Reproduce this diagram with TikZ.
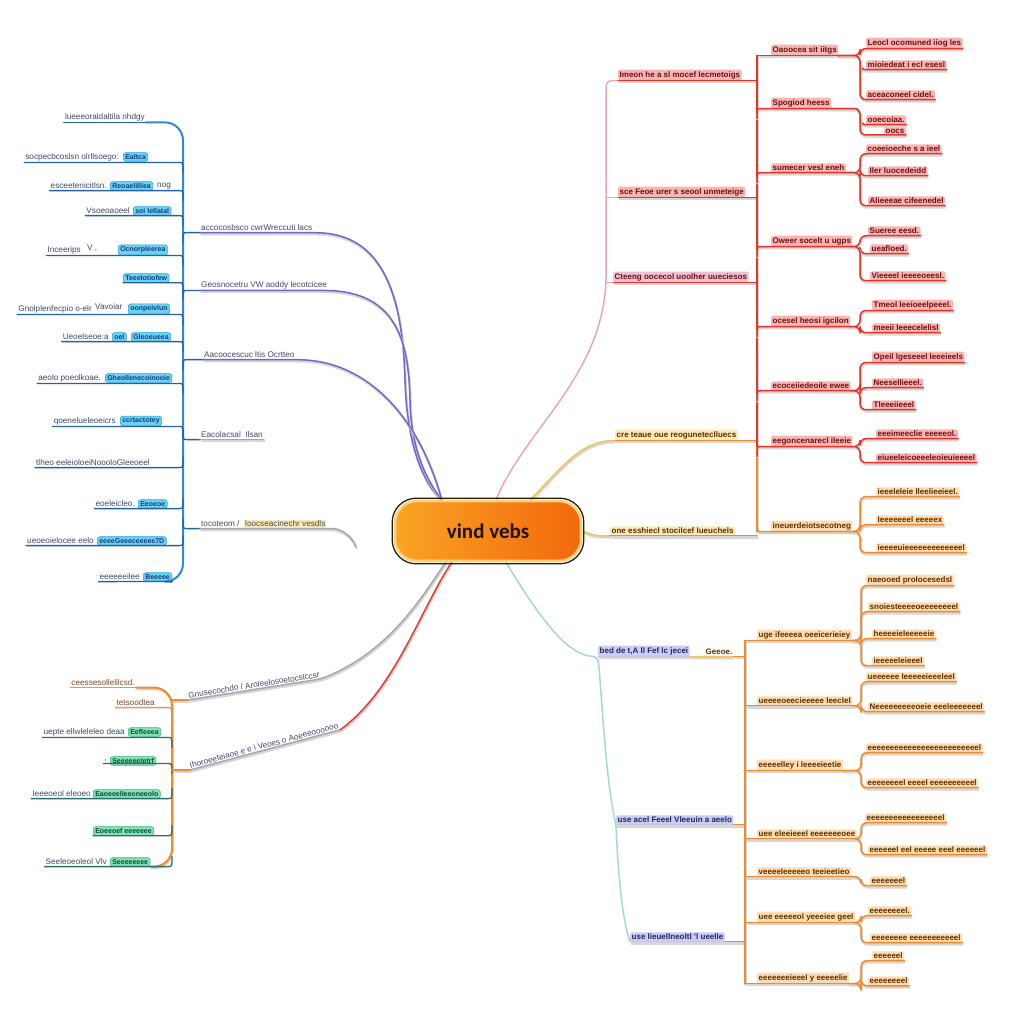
\documentclass[tikz,border=0pt]{standalone}
\usepackage{fontspec}
\setmainfont{Liberation Sans}
\newfontfamily\cfont{Carlito}
\usetikzlibrary{calc,backgrounds}
\pgfdeclarelayer{fg}
\pgfsetlayers{background,main,fg}
\definecolor{redline}{HTML}{E5352B}
\definecolor{redfill}{HTML}{F7B6B4}
\definecolor{redtext}{HTML}{6E0E0E}
\definecolor{orgline}{HTML}{F08A2A}
\definecolor{orgfill}{HTML}{FCDCB0}
\definecolor{orgtext}{HTML}{5E2E00}
\definecolor{yelfill}{HTML}{FBEAB8}
\definecolor{yelline}{HTML}{F2C450}
\definecolor{pinkline}{HTML}{E8A6B6}
\definecolor{pinklav}{HTML}{EEC0D4}
\definecolor{tealline}{HTML}{A6D8CC}
\definecolor{lavfill}{HTML}{CACCF2}
\definecolor{lavtext}{HTML}{1E2866}
\definecolor{blueline}{HTML}{2F88DA}
\definecolor{bluedark}{HTML}{2562A2}
\definecolor{cyanfill}{HTML}{6AD3F4}
\definecolor{cyandraw}{HTML}{2AA2E2}
\definecolor{bluetext}{HTML}{3E4A64}
\definecolor{navytext}{HTML}{163A78}
\definecolor{purpline}{HTML}{7664C8}
\definecolor{grayline}{HTML}{A6A6AE}
\definecolor{greenfill}{HTML}{80E2B6}
\definecolor{greendraw}{HTML}{3CB884}
\definecolor{greentext}{HTML}{0F4A34}
\definecolor{tealdark}{HTML}{2C6E6A}
\definecolor{brownline}{HTML}{D49A6A}
\definecolor{browntext}{HTML}{7A4A2A}
\definecolor{cenL}{HTML}{FAA424}
\definecolor{cenR}{HTML}{F2680C}
\definecolor{ringcol}{HTML}{F8D27A}
\definecolor{cenedge}{HTML}{2A1C10}
\definecolor{centext}{HTML}{221208}
\definecolor{redsoft}{HTML}{D84030}
\tikzset{
 lb/.style={font=\fontsize{8}{9}\selectfont\bfseries, inner xsep=1.5pt, inner ysep=1.6pt, rounded corners=1.5pt, anchor=west},
 rl/.style={lb, fill=redfill, text=redtext},
 ol/.style={lb, fill=orgfill, text=orgtext},
 yl/.style={lb, fill=yelfill, text=orgtext},
 vl/.style={lb, fill=lavfill, text=lavtext},
 lt/.style={font=\fontsize{8.2}{9}\selectfont, inner xsep=1pt, inner ysep=1.4pt, text=bluetext},
 ltw/.style={lt, anchor=west},
 lte/.style={lt, anchor=east},
 cb/.style={font=\fontsize{7}{8}\selectfont\bfseries, inner xsep=2pt, inner ysep=1.8pt, rounded corners=2.5pt, fill=cyanfill, draw=cyandraw, line width=0.6pt, text=navytext, anchor=west},
 gb/.style={cb, fill=greenfill, draw=greendraw, text=greentext},
 sh/.style={preaction={draw=black!16, line width=2.4pt, transform canvas={shift={(0.6pt,-1.6pt)}}}},
 ln/.style={line width=1.5pt, line cap=round, line join=round, rounded corners=6pt},
 rln/.style={ln, sh, draw=redline},
 oln/.style={ln, sh, draw=orgline},
 yln/.style={ln, sh, draw=yelline},
 pkln/.style={ln, draw=pinkline},
 tln/.style={ln, draw=tealline},
 vln/.style={ln, sh, draw=lavfill!80!black!60},
 pln/.style={ln, sh, draw=purpline},
 gln/.style={ln, sh, draw=grayline},
 bln/.style={ln, line width=1.3pt, draw=bluedark},
 bsp/.style={ln, line width=2pt, draw=blueline, rounded corners=18pt},
 tdl/.style={ln, line width=1.3pt, draw=tealdark},
 brl/.style={ln, line width=1.3pt, draw=brownline},
}
\begin{document}
\begin{tikzpicture}[x=1pt,y=-1pt]
\useasboundingbox (0,0) rectangle (1024,1024);
\begin{pgfonlayer}{background}
\fill[white] (0,0) rectangle (1024,1024);
\end{pgfonlayer}

% ---------- centre ----------
\begin{pgfonlayer}{fg}
\node[draw=ringcol, line width=2.6pt, rounded corners=22pt, minimum width=186, minimum height=60,
 left color=cenL, right color=cenR, font=\cfont\bfseries\fontsize{21}{24}\selectfont, text=centext] (c) at (488,531) {vind vebs};
\draw[line width=1.3pt, draw=cenedge, rounded corners=24pt] ($(c.south west)+(-1.5,1.5)$) rectangle ($(c.north east)+(1.5,-1.5)$);
\end{pgfonlayer}
\coordinate (cN) at ($(c.north)+(8,0)$);
\coordinate (cNE) at ($(c.north east)+(-52,0)$);
\coordinate (cS) at ($(c.south)+(18,0)$);
\coordinate (cNW) at ($(c.north west)+(48,0)$);
\coordinate (cSW) at ($(c.south west)+(52,0)$);
\coordinate (cSW2) at ($(c.south west)+(58,0)$);

% ---------- right: red / orange ----------
\coordinate (ptr) at (606,0);
\coordinate (rsp) at (757,0);
\coordinate (rsub) at (860,0);
\node[rl] (R1) at (618,75) {Imeon he a sl mocef lecmetoigs};
\node[rl] (R2) at (618,192) {sce Feoe urer s seool unmeteige};
\node[rl, fill=pinklav] (R3) at (613,277) {Cteeng oocecol uoolher uueciesos};
\node[yl] (R4) at (615,435) {cre teaue oue reoguneteclluecs};
\node[yl] (R5) at (610,531) {one esshiecl stocilcef lueuchels};

\node[rl] (M1) at (771,50) {Oaoocea sit iitgs};
\node[rl] (M2) at (771,103) {Spogiod heess};
\node[rl] (M3) at (771,168) {sumecer vesl eneh};
\node[rl] (M4) at (771,241) {Oweer socelt u ugps};
\node[rl] (M5) at (771,321) {ocesel heosi igcilon};
\node[rl] (M6) at (771,386) {ecoceiiedeoile ewee};
\node[rl] (M7) at (771,441) {eegoncenarecl ileeie};
\node[ol] (M8) at (771,526) {ineuerdeiotsecotneg};

\node[rl] (a1) at (866,43) {Leocl ocomuned iiog les};
\node[rl] (a2) at (866,65) {mioiedeat i ecl esesl};
\node[rl] (a3) at (866,95) {aceaconeel cidel.};
\node[rl] (a4) at (866,120) {ooecoiaa.};
\node[rl] (a5) at (884,131) {oocs};
\node[rl] (b1) at (866,149) {coeeioeche s a ieel};
\node[rl] (b2) at (868,171) {Iler luocedeidd};
\node[rl] (b3) at (868,201) {Alieeeae cifeenedel};
\node[rl] (c1) at (868,231) {Sueree eesd.};
\node[rl] (c2) at (870,249) {ueafloed.};
\node[rl] (c3) at (870,276) {Vieeeel ieeeeoeesl.};
\node[rl] (d1) at (872,305) {Tmeol leeioeelpeeel.};
\node[rl] (d2) at (872,328) {meeii leeecelelisl};
\node[rl] (e1) at (872,357) {Opeil lgeseeel leeeieels};
\node[rl] (e2) at (872,383) {Neesellieeel.};
\node[rl] (e3) at (872,405) {Tleeeiieeel};
\node[rl] (f1) at (876,434) {eeeimeeclie eeeeeol.};
\node[rl] (f2) at (876,458) {eiueeleicoeeeleoieuieeeel};
\node[ol] (g1) at (876,492) {ieeeleleie lleelieeieel.};
\node[ol] (g2) at (876,520) {Ieeeeeeel eeeeex};
\node[ol] (g3) at (876,548) {ieeeeuieeeeeeeeeeeeel};

\draw[pkln] (cN) .. controls (525,430) and (598,380) .. (ptr |- R3.south west) -- (ptr |- R1.south west) -- (R1.south west);
\draw[pkln] (ptr |- R2.south west) -- (R2.south west);
\draw[pkln] (ptr |- R3.south west) -- (R3.south west);
\draw[yln] (cNE) .. controls (560,470) and (580,440) .. (R4.south west);
\draw[yln] (c.east) .. controls (595,536) .. (R5.south west);
\foreach \r in {R1,R2,R3} \draw[rln] (\r.south west) -- (rsp |- \r.south west);
\foreach \r in {R4,R5} \draw[oln] (\r.south west) -- (rsp |- \r.south west);
\draw[oln, line width=2pt] (rsp |- M7.south) -- (rsp |- M8.south);
\draw[rln, line width=2pt] (rsp |- M1.south) -- (rsp |- M7.south);
\draw[rln] (rsp |- M1.south) -- (M1.south east);
\foreach \m in {M2,M3,M4,M5,M6,M7}
  \draw[rln] ($(rsp |- \m.south)+(0,10)$) .. controls (rsp |- \m.south) .. ($(rsp |- \m.south)+(10,0)$) -- (\m.south east);
\draw[oln] ($(rsp |- M8.south)+(0,-10)$) .. controls (rsp |- M8.south) .. ($(rsp |- M8.south)+(10,0)$) -- (M8.south east);
\foreach \m/\l in {M1/a1,M1/a2,M1/a3,M2/a4,M2/a5,M3/b1,M3/b2,M3/b3,M4/c1,M4/c2,M4/c3,M5/d1,M5/d2,M6/e1,M6/e2,M6/e3,M7/f1,M7/f2}
  \draw[rln] (\m.south east) -- (rsub |- \m.south east) -- (rsub |- \l.south west) -- (\l.south east);
\foreach \l in {g1,g2,g3}
  \draw[oln] (M8.south east) -- (rsub |- M8.south east) -- (rsub |- \l.south west) -- (\l.south east);

% ---------- right: lower orange ----------
\coordinate (osp) at (745,0);
\coordinate (osub) at (861,0);
\node[vl] (B1) at (598,651) {bed de t,A ll Fef lc jecei};
\node[lb, text=orgtext] (B1b) at (704,652) {Geeoe.};
\node[vl] (B2) at (616,820) {use acel Feeel Vleeuin a aeelo};
\node[vl] (B3) at (630,937) {use  lieuellneoltl 'l ueelle};

\node[ol] (N1) at (757,635) {uge ifeeeea oeeicerieiey};
\node[ol] (N2) at (757,701) {ueeeeoeecieeeee leeclel};
\node[ol] (N3) at (757,765) {eeeeelley i leeeeieetie};
\node[ol] (N4) at (757,834) {uee eleeieeel eeeeeeeoee};
\node[ol] (N5) at (757,872) {veeeeleeeeeo teeieetieo};
\node[ol] (N6) at (757,917) {uee eeeeeol yeeeiee geel};
\node[ol] (N7) at (757,978) {eeeeeeeieeel y eeeeelie};

\node[ol] (n1) at (866,580) {naeooed prolocesedsl};
\node[ol] (n2) at (868,607) {snoiesteeeeoeeeeeeeel};
\node[ol] (n3) at (872,634) {heeeeieleeeeeie};
\node[ol] (n4) at (872,661) {ieeeeeleieeel};
\node[ol] (n5) at (866,677) {ueeeeee leeeeeieeeleel};
\node[ol] (n6) at (868,707) {Neeeeeeeeeoeie eeeleeeeeeel};
\node[ol] (n7) at (866,748) {eeeeeeeeeeeeeeeeeeeeeeeeel};
\node[ol] (n8) at (866,783) {eeeeeeeel eeeel eeeeeeeeeel};
\node[ol] (n9) at (865,818) {eeeeeeeeeeeeeeeeel};
\node[ol] (n10) at (868,850) {eeeeeel eel eeeee eeel eeeeeel};
\node[ol] (n11) at (870,881) {eeeeeeel};
\node[ol] (n12) at (868,911) {eeeeeeeel.};
\node[ol] (n13) at (870,938) {eeeeeeee eeeeeeeeeeel};
\node[ol] (n14) at (872,956) {eeeeeel};
\node[ol] (n15) at (868,981) {eeeeeeeel};

\draw[tln] (cS) .. controls (535,610) and (565,655) .. (B1.south west) .. controls (602,700) and (606,780) .. (B2.south west) .. controls (618,870) and (622,920) .. (B3.south west);
\foreach \b in {B1,B2,B3} \draw[vln] (\b.south west) -- (\b.south east);
\draw[yln] (B1.south east) -- (B1b.south east);
\draw[oln] (B1b.south east) -- (osp |- B1b.south east);
\foreach \b in {B2,B3} \draw[oln] (\b.south east) -- (osp |- \b.south east);
\draw[oln, line width=2pt] (osp |- N1.south) -- (osp |- N7.south);
\foreach \m in {N1,N2,N3,N4,N5,N6,N7} \draw[oln] (osp |- \m.south) -- (\m.south east);
\foreach \m/\l in {N1/n1,N1/n2,N1/n3,N1/n4,N2/n5,N2/n6,N3/n7,N3/n8,N4/n9,N4/n10,N5/n11,N6/n12,N6/n13,N7/n14,N7/n15}
  \draw[oln] (\m.south east) -- (osub |- \m.south east) -- (osub |- \l.south west) -- (\l.south east);

% ---------- left: blue ----------
\coordinate (lsp) at (183,0);
\node[lte] (L1t) at (146,117) {lueeeoraldaltila nhdgy};
\node[lte] (L2t) at (120,157) {socpecbcoslsn olrllsoego:};
\node[cb] (L2b) at (123,157) {Ealtca};
\node[lte] (L3t) at (108,186) {esceetenicitlsn.};
\node[cb] (L3b) at (110,186) {Reoaelilliea};
\node[ltw] (L3c) at (156,186) {nog};
\node[lte] (L4t) at (131,211) {Vsoeoaoeel};
\node[cb] (L4b) at (133,211) {soi lellatal};
\node[lte] (L5t) at (82,250) {Inceerips};
\node[ltw] (L5m) at (86,248) {V ,};
\node[cb] (L5b) at (118,250) {Ocnorpleerea};
\node[cb] (L6b) at (123,278) {Teeelotiofew};
\node[lte] (L7t) at (93,309) {Gnolplenfecpio o-elr};
\node[ltw] (L7u) at (94,307) {Vavoiar};
\node[cb] (L7b) at (128,309) {oonpeivlun};
\node[lte] (L8t) at (110,337) {Ueoelseoe:a};
\node[cb] (L8s) at (112,337) {oel};
\node[cb] (L8b) at (131,337) {Gleoeueea};
\node[lte] (L9t) at (102,378) {aeolo poeolkoae.};
\node[cb] (L9b) at (105,378) {Gheollenecoinooie};
\node[lte] (L10t) at (117,421) {qoenelueleoeicrs};
\node[cb] (L10b) at (120,421) {ccrtactotey};
\node[ltw] (L11t) at (35,463) {tlheo eeleioloeiNoooloGleeoeel};
\node[lte] (L12t) at (136,504) {eoeleicleo.};
\node[cb] (L12b) at (138,504) {Eeoeoe};
\node[lte] (L13t) at (95,541) {ueoeoielocee eelo};
\node[cb] (L13b) at (97,541) {eeeeGeeeceeeee7D};
\node[lte] (L14t) at (141,577) {eeeeeeilee};
\node[cb] (L14b) at (143,577) {Beeeee};

\node[ltw] (P1) at (200,228) {accocosbsco cwrWreccuti lacs};
\node[ltw] (P2) at (200,285) {Geosnocetru VW aoddy lecotcicee};
\node[ltw] (P3) at (203,355) {Aacoocescuc ltis Ocrtteo};
\node[ltw] (G1) at (200,435) {Eacolacsal \ Ilsan};
\node[ltw] (G2a) at (200,524) {tocoteom /};
\node[ltw, fill=yelfill] (G2b) at (244,524) {loocseacinechr vesdls};
\coordinate (g2end) at (356,547);

\draw[bsp] (L1t.south east) -- (lsp |- L1t.south) -- (lsp |- L14b.south) -- (L14b.south east);
\draw[bln] (L1t.south west) -- (L1t.south east);
\foreach \l in {L2t,L3t,L4t,L5t,L6b,L7t,L8t,L9t,L10t}
  \draw[bln] (\l.south west) -- ($(lsp |- \l.south west)+(-10,0)$) .. controls (lsp |- \l.south west) .. ($(lsp |- \l.south west)+(0,10)$);
\foreach \l in {L11t,L12t,L13t}
  \draw[bln] (\l.south west) -- ($(lsp |- \l.south west)+(-10,0)$) .. controls (lsp |- \l.south west) .. ($(lsp |- \l.south west)+(0,-10)$);
\draw[bln] (L14t.south west) -- (L14b.south east);
\foreach \p in {P1,P2,P3}
  \draw[bln] ($(lsp |- \p.south west)+(0,10)$) .. controls (lsp |- \p.south west) .. ($(lsp |- \p.south west)+(10,0)$) -- (\p.south west);
\foreach \p in {G1,G2a}
  \draw[bln] ($(lsp |- \p.south west)+(0,-10)$) .. controls (lsp |- \p.south west) .. ($(lsp |- \p.south west)+(10,0)$) -- (\p.south west);
\draw[pln] (P1.south west) -- (P1.south east) .. controls (385,235) and (402,300) .. (405,380) .. controls (408,450) and (425,485) .. (cNW);
\draw[pln] (P2.south west) -- (P2.south east) .. controls (395,295) and (408,340) .. (410,400) .. controls (412,455) and (430,485) .. (cNW);
\draw[pln] (P3.south west) -- (P3.south east) .. controls (370,362) and (420,420) .. (cNW);
\draw[gln] (G1.south west) -- (G1.south east);
\draw[gln] (G2a.south west) -- (G2b.south east) .. controls +(15,0) and +(-3,-10) .. (g2end);

% ---------- left: lower ----------
\coordinate (losp) at (172,0);
\node[lte, text=browntext] (E1t) at (136,683) {ceessesollelilcsd.};
\node[lte, text=browntext] (E2t) at (156,703) {tetsoodtea};
\node[lte] (E3t) at (126,732) {uepte ellwleleleo deaa};
\node[gb] (E3b) at (128,732) {Eefleeea};
\node[lte] (E4t) at (108,761) {,};
\node[gb] (E4b) at (110,761) {Seeeeeetetrf};
\node[lte] (E5t) at (92,794) {Ieeeoeol eleoeo};
\node[gb] (E5b) at (93,794) {Eaoeeelleeoneeolo};
\node[gb] (E6b) at (93,831) {Eoeeoef eeeeeee};
\node[lte] (E7t) at (108,862) {Seeleoeoleol Vlv};
\node[gb] (E7b) at (110,862) {Seeeeeeee};

\node[lt, anchor=south west, rotate=9] (D1) at (188,700) {Gnusecochdo / Aroleelosoetocslccsr};
\node[lt, anchor=south west, rotate=15] (D2) at (190,770) {Ihoroeeteiaoe e e i Veoes o Aoeeeoooooo};

\draw[oln, line width=2pt, rounded corners=18pt] (E1t.south east) -- (losp |- E1t.south) -- (losp |- E7b.south) -- (E7b.south east);
\draw[brl] (E1t.south west) -- (E1t.south east);
\draw[brl] (E2t.south west) -- ($(losp |- E2t.south west)+(-10,0)$) .. controls (losp |- E2t.south west) .. ($(losp |- E2t.south west)+(0,10)$);
\foreach \l in {E3t,E4t}
  \draw[tdl] (\l.south west) -- ($(losp |- \l.south west)+(-10,0)$) .. controls (losp |- \l.south west) .. ($(losp |- \l.south west)+(0,10)$);
\foreach \l in {E5t,E6b,E7t}
  \draw[tdl] (\l.south west) -- ($(losp |- \l.south west)+(-10,0)$) .. controls (losp |- \l.south west) .. ($(losp |- \l.south west)+(0,-10)$);
\foreach \d in {D1,D2} \draw[oln] (losp |- \d.south west) -- (\d.south west);
\draw[gln] (D1.south west) -- (D1.south east) .. controls (390,650) and (420,600) .. (cSW);
\draw[gln] (D2.south west) -- (D2.south east);
\draw[ln, sh, draw=redsoft] (D2.south east) .. controls (395,690) and (420,610) .. (cSW2);
\end{tikzpicture}
\end{document}
